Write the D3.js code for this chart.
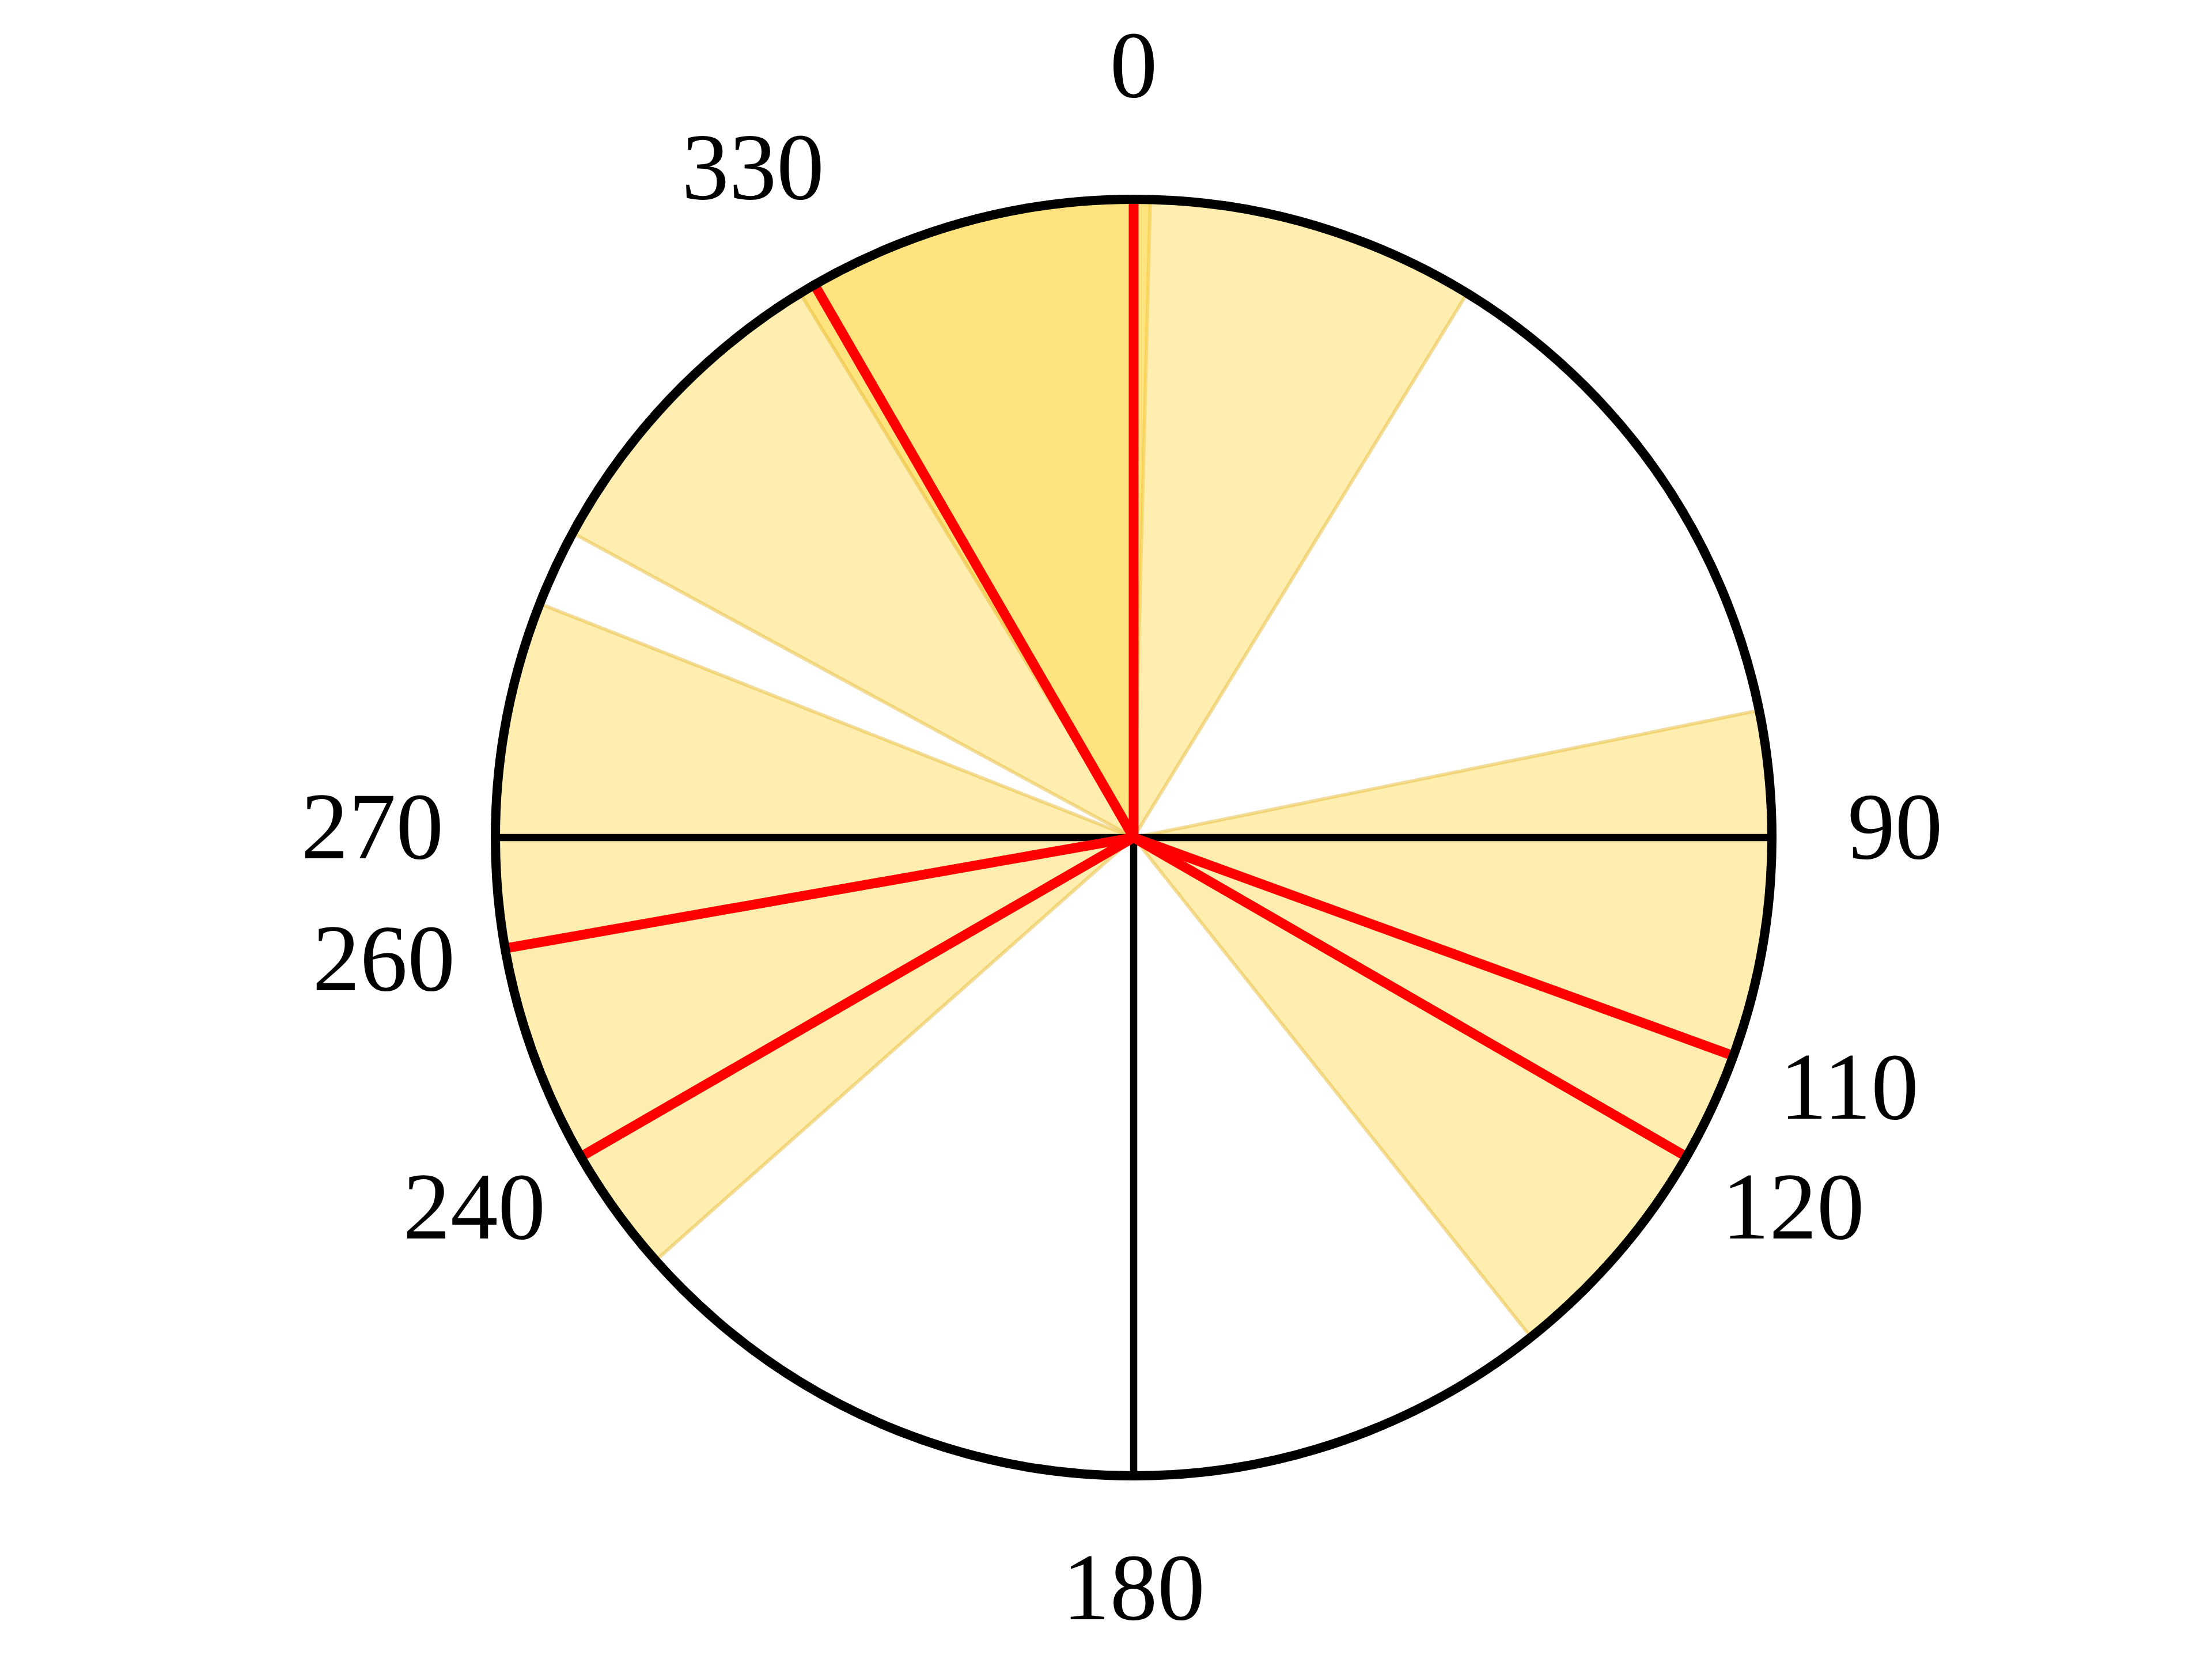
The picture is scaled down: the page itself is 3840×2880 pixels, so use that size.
<!DOCTYPE html>
<html>
<head>
<meta charset="utf-8">
<script src="https://cdn.jsdelivr.net/npm/d3@7"></script>
<style>
  html, body { margin: 0; padding: 0; background: #fff; }
  svg { display: block; }
</style>
</head>
<body>
<div id="chart"></div>
<script>
// angles in degrees, clockwise from north
const axisAngles = [0, 90, 180, 270];
const markAngles = [0, 110, 120, 240, 260, 330];
const sectorCenters = [330, 0, 110, 260];
const sectorHalfWidth = 31.5;
const labelAngles = [0, 90, 110, 120, 180, 240, 260, 270, 330];

const width = 3840, height = 2880;
const cx = 1968, cy = 1454;
const R = 1108;

const svg = d3.select("#chart").append("svg")
    .attr("width", width)
    .attr("height", height);

const g = svg.append("g")
    .attr("transform", `translate(${cx},${cy})`);

const angle = d3.scaleLinear().domain([0, 360]).range([0, 2 * Math.PI]);
const radius = d3.scaleLinear().domain([0, 1]).range([0, R]);

// point at angle a (deg) and relative radius r
function pt(a, r) {
    const t = angle(a);
    return [Math.sin(t) * radius(r), -Math.cos(t) * radius(r)];
}

const arc = d3.arc()
    .innerRadius(0)
    .outerRadius(radius(1))
    .startAngle(d => angle(d - sectorHalfWidth))
    .endAngle(d => angle(d + sectorHalfWidth));

// shaded sectors
g.append("g")
    .selectAll("path")
    .data(sectorCenters)
    .join("path")
    .attr("d", arc)
    .attr("fill", "rgb(255,212,50)")
    .attr("fill-opacity", 0.39)
    .attr("stroke", "rgb(228,180,40)")
    .attr("stroke-opacity", 0.45)
    .attr("stroke-width", 6)
    .attr("stroke-linejoin", "round");

// black axes
g.append("g")
    .selectAll("line")
    .data(axisAngles)
    .join("line")
    .attr("x1", 0).attr("y1", 0)
    .attr("x2", d => pt(d, 1)[0])
    .attr("y2", d => pt(d, 1)[1])
    .attr("stroke", "#000")
    .attr("stroke-width", 12.5);

// red marks
g.append("g")
    .selectAll("line")
    .data(markAngles)
    .join("line")
    .attr("x1", 0).attr("y1", 0)
    .attr("x2", d => pt(d, 1)[0])
    .attr("y2", d => pt(d, 1)[1])
    .attr("stroke", "#ff0000")
    .attr("stroke-width", 17);

// outer circle
g.append("circle")
    .attr("r", radius(1))
    .attr("fill", "none")
    .attr("stroke", "#000")
    .attr("stroke-width", 16);

// labels
g.append("g")
    .selectAll("text")
    .data(labelAngles)
    .join("text")
    .attr("x", d => pt(d, 1.193)[0])
    .attr("y", d => pt(d, 1.193)[1] - 20)
    .attr("text-anchor", "middle")
    .attr("dominant-baseline", "central")
    .attr("font-family", "'Liberation Serif', 'Times New Roman', serif")
    .attr("font-size", 165)
    .attr("fill", "#000")
    .text(d => d);
</script>
</body>
</html>
